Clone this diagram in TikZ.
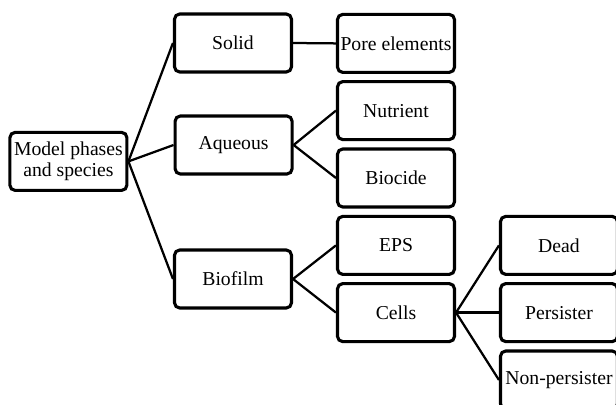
\documentclass[tikz,border=0pt]{standalone}
\usepackage{fontspec}
\setmainfont{Liberation Serif}
\begin{document}
\begin{tikzpicture}[
  box/.style={draw, line width=2.2pt, rounded corners=0.13cm, minimum width=2.925cm,
    minimum height=1.45cm, inner sep=0pt, align=center, font=\fontsize{14}{14.5}\selectfont},
  link/.style={line width=1.6pt}]
\useasboundingbox (0,0) rectangle (15.4,10.125);
\node[box] (model) at (1.71,6.09) {Model phases\\and species};
\node[box] (solid) at (5.825,9.05) {Solid};
\node[box] (aqueous) at (5.84,6.5) {Aqueous};
\node[box] (biofilm) at (5.825,3.15) {Biofilm};
\node[box] (pore) at (9.9,9.04) {Pore elements};
\node[box] (nutrient) at (9.9,7.36) {Nutrient};
\node[box] (biocide) at (9.9,5.675) {Biocide};
\node[box] (eps) at (9.9,3.99) {EPS};
\node[box] (cells) at (9.9,2.31) {Cells};
\node[box] (dead) at (13.975,3.99) {Dead};
\node[box] (persister) at (13.975,2.31) {Persister};
\node[box] (nonpers) at (13.975,0.625) {Non-persister};
\draw[link] (model.east) -- (solid.west);
\draw[link] (model.east) -- (aqueous.west);
\draw[link] (model.east) -- (biofilm.west);
\draw[link] (solid.east) -- (pore.west);
\draw[link] (aqueous.east) -- (nutrient.west);
\draw[link] (aqueous.east) -- (biocide.west);
\draw[link] (biofilm.east) -- (eps.west);
\draw[link] (biofilm.east) -- (cells.west);
\draw[link] (cells.east) -- (dead.west);
\draw[link] (cells.east) -- (persister.west);
\draw[link] (cells.east) -- (nonpers.west);
\end{tikzpicture}
\end{document}
